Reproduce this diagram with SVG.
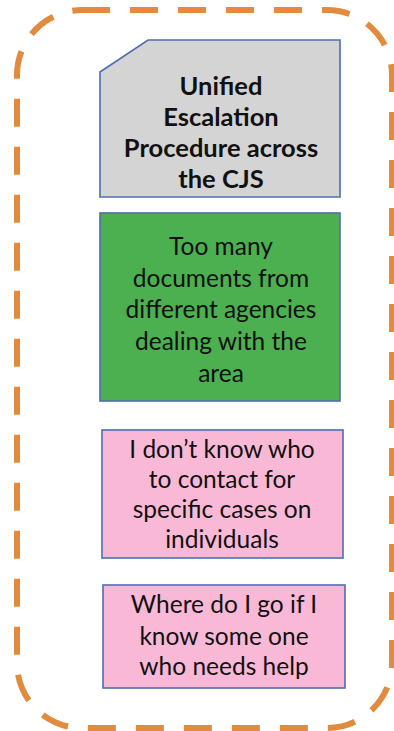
<svg xmlns="http://www.w3.org/2000/svg" width="394" height="731" viewBox="0 0 394 731">
  <style>
    .frame { fill: none; stroke: #E08B3E; stroke-width: 6; stroke-dasharray: 28 20; }
    .box { stroke: #4F6EAE; stroke-width: 1.6; }
    .t { font-family: Lato, "Open Sans", "Liberation Sans", sans-serif; font-size: 24.5px; fill: #111; text-anchor: middle; }
    .b { font-weight: bold; font-size: 25.5px; }
  </style>
  <rect width="394" height="731" fill="#ffffff"/>
  <g id="frame">
    <rect class="frame" x="17" y="10" width="375" height="718" rx="65" ry="65"/>
  </g>
  <g id="connectors"></g>
  <g id="node-unified">
    <path class="box" d="M100,72 L148,40 L340,40 L340,197 L100,197 Z" fill="#D4D4D4"/>
    <text class="t b" x="221" y="95">Unified</text>
    <text class="t b" x="221" y="126">Escalation</text>
    <text class="t b" x="221" y="157">Procedure across</text>
    <text class="t b" x="221" y="188">the CJS</text>
  </g>
  <g id="node-documents">
    <rect class="box" x="100" y="213" width="240" height="188" fill="#4CAF50"/>
    <text class="t" x="221" y="255">Too many</text>
    <text class="t" x="221" y="287">documents from</text>
    <text class="t" x="221" y="318">different agencies</text>
    <text class="t" x="221" y="350">dealing with the</text>
    <text class="t" x="221" y="382">area</text>
  </g>
  <g id="node-contact">
    <rect class="box" x="102" y="430" width="241" height="128" fill="#F9B9D6"/>
    <text class="t" x="222" y="458">I don’t know who</text>
    <text class="t" x="222" y="488">to contact for</text>
    <text class="t" x="222" y="518">specific cases on</text>
    <text class="t" x="222" y="548">individuals</text>
  </g>
  <g id="node-where">
    <rect class="box" x="103" y="585" width="242" height="103" fill="#F9B9D6"/>
    <text class="t" x="224" y="613">Where do I go if I</text>
    <text class="t" x="224" y="645">know some one</text>
    <text class="t" x="224" y="675">who needs help</text>
  </g>
</svg>
